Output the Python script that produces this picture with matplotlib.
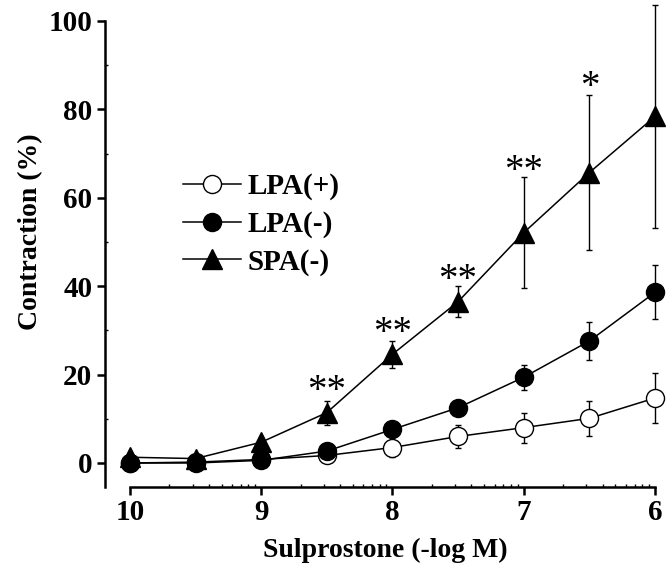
import matplotlib
matplotlib.use('Agg')
from matplotlib import pyplot
from matplotlib.lines import Line2D
import matplotlib.ticker as ticker
import numpy

# -log M concentrations of sulprostone
dose = [10, 9.5, 9, 8.5, 8, 7.5, 7, 6.5, 6]

# contraction (%) mean and error
lpa_plus = [0, 0.2, 0.8, 1.7, 3.5, 6.0, 8.0, 10.1, 14.7]
lpa_plus_err = [0.4, 0.4, 0.5, 1.0, 2.2, 2.5, 3.4, 4.0, 5.7]
lpa_minus = [0, 0, 0.6, 2.7, 7.6, 12.5, 19.4, 27.6, 38.6]
lpa_minus_err = [0.4, 0.4, 0.5, 0.8, 1.0, 1.5, 2.8, 4.2, 6.1]
spa_minus = [1.3, 1.0, 4.7, 11.4, 24.6, 36.5, 52.1, 65.7, 78.4]
spa_minus_err = [0.5, 0.5, 1.0, 2.7, 3.0, 3.5, 12.5, 17.6, 25.2]

# significance marks above SPA(-)
star_x = [8.5, 8, 7.5, 7, 6.5]
star_y = [18.3, 31.4, 43.4, 68.0, 87.0]
star_txt = ['**', '**', '**', '**', '*']

pyplot.rcParams['font.family'] = ['Liberation Serif', 'DejaVu Serif']

fig = pyplot.figure(figsize=(6.66, 5.75), dpi=100)
ax = fig.add_axes([105/666, 88/575, 561/666, 487/575])

common = dict(color='black', ecolor='black', elinewidth=1.0, capsize=2.5,
              capthick=1.0, linewidth=1.1, clip_on=False)
ax.errorbar(dose, lpa_plus, yerr=lpa_plus_err, fmt='-o', markersize=13,
            markerfacecolor='white', markeredgecolor='black', markeredgewidth=1.0,
            zorder=3, **common)
ax.errorbar(dose, lpa_minus, yerr=lpa_minus_err, fmt='-o', markersize=13,
            markerfacecolor='black', markeredgecolor='black', zorder=4, **common)
ax.errorbar(dose, spa_minus, yerr=spa_minus_err, fmt='-^', markersize=15,
            markerfacecolor='black', markeredgecolor='black', zorder=5, **common)

# star glyph sits above the baseline, so shift the baseline down a little
for x, y, s in zip(star_x, star_y, star_txt):
    ax.text(x, y - 4.2, s, ha='center', va='baseline', fontsize=28)

# axes
ax.set_xlim(10.19, 5.916)
ax.set_ylim(-5.43, 104.75)
ax.spines['top'].set_visible(False)
ax.spines['right'].set_visible(False)
ax.spines['left'].set_linewidth(1.8)
ax.spines['bottom'].set_linewidth(1.8)
ax.spines['left'].set_bounds(-5.43, 100)
ax.spines['bottom'].set_bounds(10, 6)

ax.xaxis.set_major_locator(ticker.FixedLocator([10, 9, 8, 7, 6]))
minor = [d - numpy.log10(k) for d in [10, 9, 8, 7] for k in range(2, 10)]
ax.xaxis.set_minor_locator(ticker.FixedLocator(minor))
ax.yaxis.set_major_locator(ticker.MultipleLocator(20))
ax.yaxis.set_minor_locator(ticker.FixedLocator([10, 30, 50, 70, 90]))

ax.tick_params(which='major', direction='out', length=6, width=1.8, labelsize=21, pad=3)
ax.tick_params(which='minor', direction='in', length=2.5, width=1.0)
for lab in ax.get_xticklabels() + ax.get_yticklabels():
    lab.set_fontweight('bold')

ax.set_xlabel('Sulprostone (-log M)', fontsize=20, fontweight='bold', labelpad=8)
ax.set_ylabel('Contraction (%)', fontsize=20, fontweight='bold')
ax.yaxis.set_label_coords(-0.11, 0.524)

# legend
handles = [
    Line2D([], [], color='black', linewidth=1.1, marker='o', markersize=13,
           markerfacecolor='white', markeredgecolor='black'),
    Line2D([], [], color='black', linewidth=1.1, marker='o', markersize=13,
           markerfacecolor='black'),
    Line2D([], [], color='black', linewidth=1.1, marker='^', markersize=15,
           markerfacecolor='black'),
]
ax.legend(handles, ['LPA(+)', 'LPA(-)', 'SPA(-)'], loc='upper left',
          bbox_to_anchor=(183/666, 1 - 173/575), bbox_transform=fig.transFigure,
          frameon=False, prop={'weight': 'bold', 'size': 21}, handlelength=2.0,
          handletextpad=0.2, labelspacing=0.36, borderpad=0, borderaxespad=0)

fig.savefig('out.png')
